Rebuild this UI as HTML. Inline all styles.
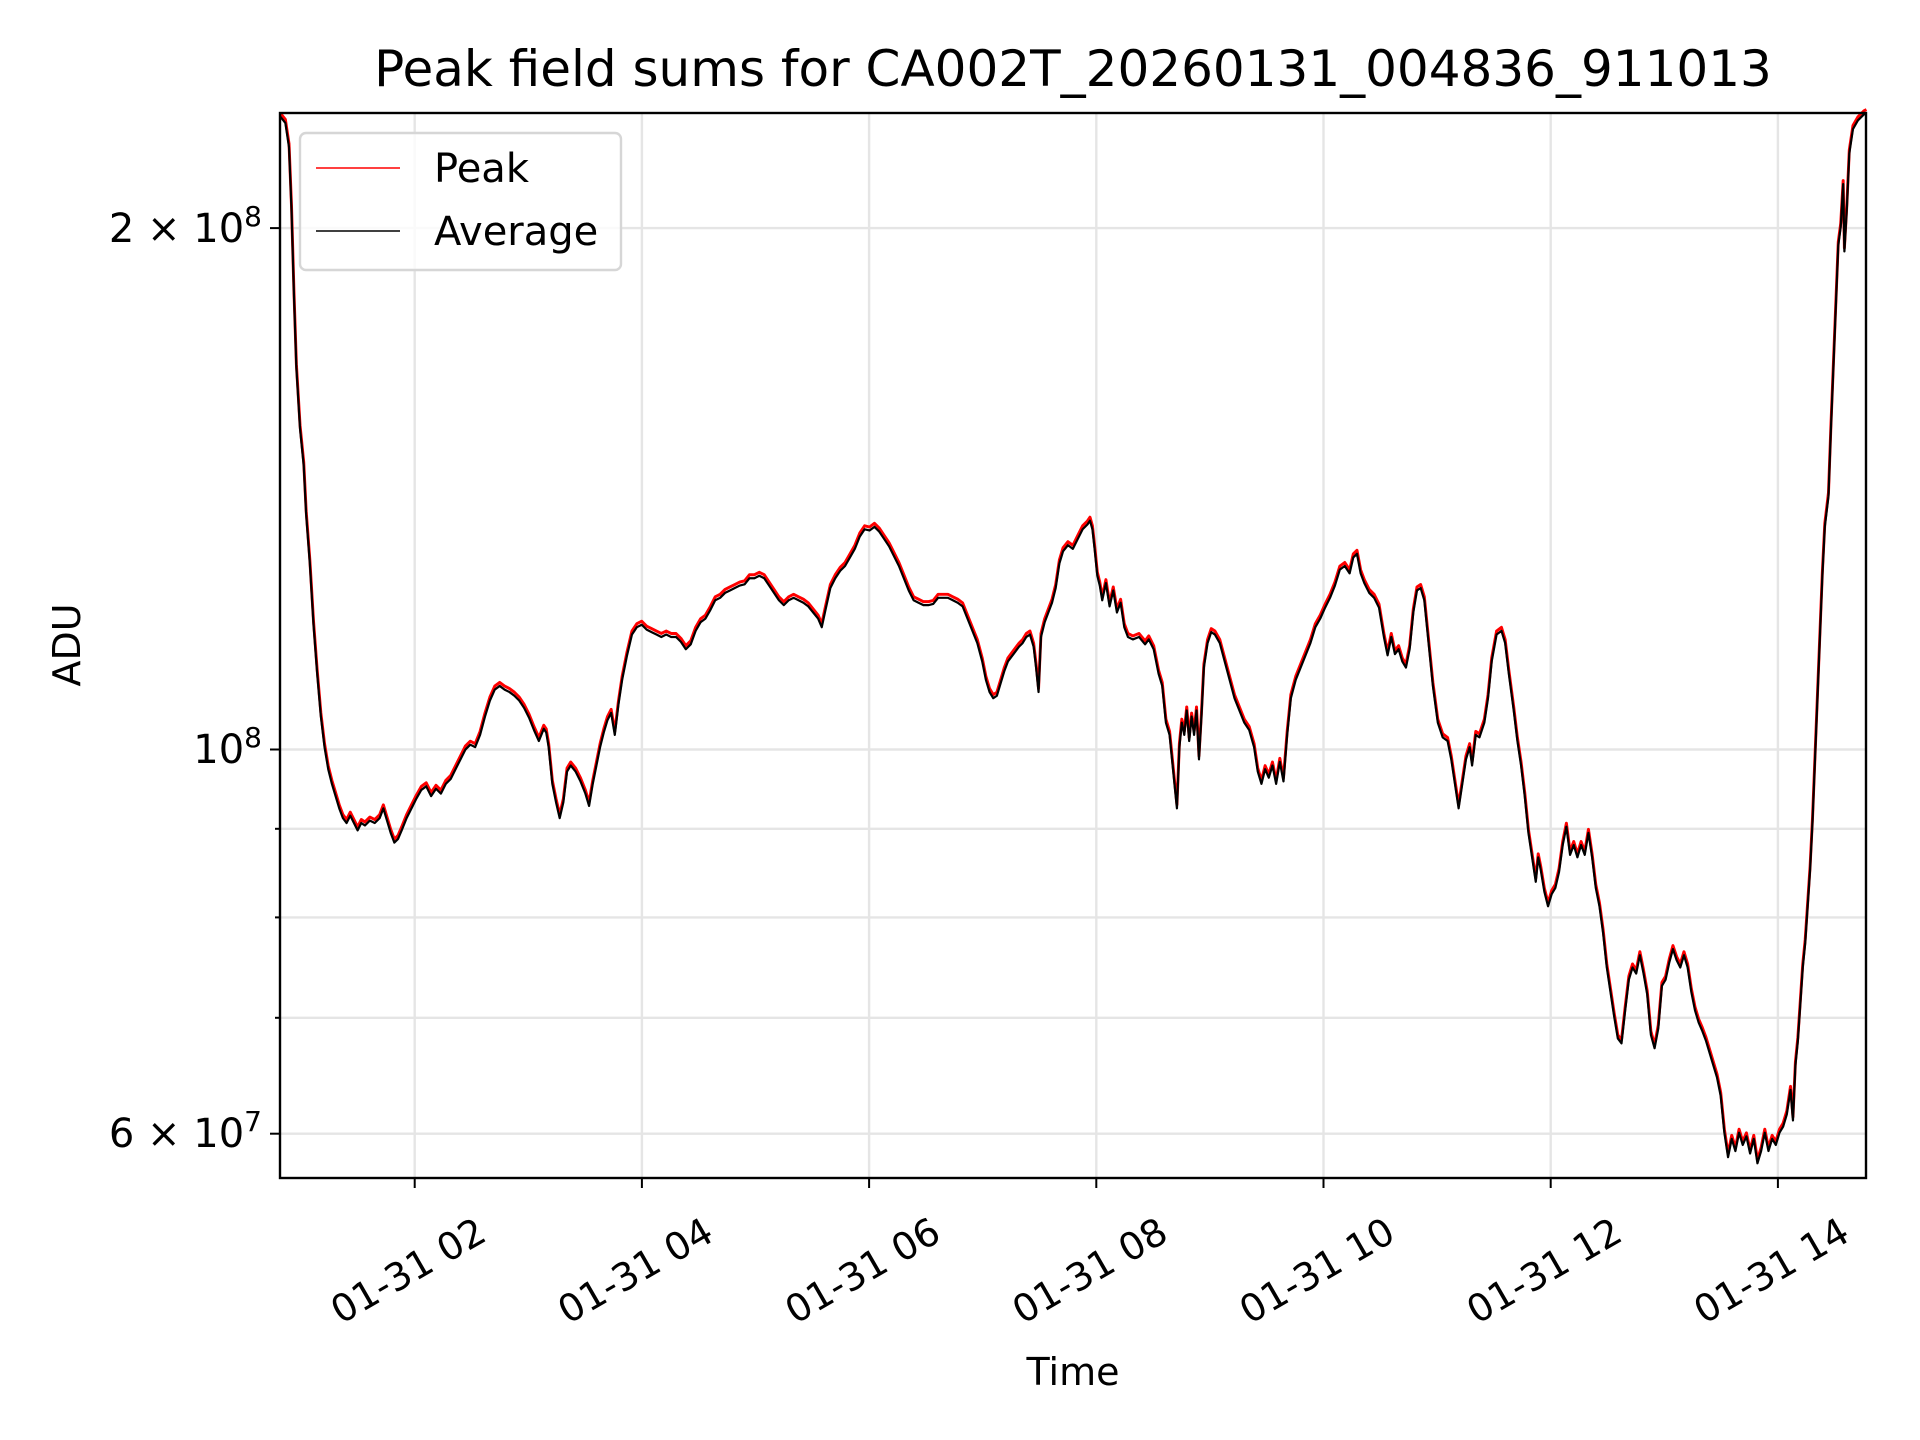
<!DOCTYPE html>
<html><head><meta charset="utf-8"><style>
html,body{margin:0;padding:0;background:#fff;}
svg{display:block;font-family:"DejaVu Sans","Liberation Sans",sans-serif;}
</style></head><body>
<svg width="1920" height="1440" viewBox="0 0 1920 1440" xmlns="http://www.w3.org/2000/svg">
<defs>
<polyline id="avg" points="229,95 233,100 236,120 238,170 240,240 242,300 245,350 248,380 250,420 253,460 256,510 259,550 262,585 265,610 268,628 271,640 274,650 277,660 280,668 283,672 286,666 289,672 292,678 295,672 298,674 302,670 306,672 310,668 313,660 316,670 319,680 322,688 325,685 328,678 332,668 336,660 340,652 344,645 348,642 352,650 356,644 360,648 364,640 368,636 372,628 376,620 380,612 384,608 388,610 392,600 396,585 400,572 404,563 408,560 412,563 416,565 420,568 424,572 428,578 432,586 436,596 440,605 444,595 446,598 448,610 451,640 454,655 457,668 460,655 463,630 466,625 470,630 474,638 478,648 481,658 484,640 487,625 490,610 493,598 496,588 499,582 502,600 505,575 508,555 512,535 516,518 520,512 524,510 528,514 532,516 536,518 540,520 544,518 548,520 552,520 556,524 560,530 564,526 568,515 572,508 576,505 580,498 584,490 588,488 592,484 596,482 600,480 604,478 608,477 612,472 616,472 620,470 624,472 628,478 632,484 636,490 640,494 644,490 648,488 652,490 656,492 660,495 664,500 668,505 671,512 674,498 678,480 682,472 686,466 690,462 694,455 698,448 702,438 706,432 710,433 714,430 718,434 722,440 726,446 730,454 734,462 738,472 742,482 746,490 750,492 754,494 758,494 762,493 766,488 770,488 774,488 778,490 782,492 786,495 790,505 794,515 798,525 802,540 805,555 808,565 811,570 814,568 817,558 820,548 823,540 826,536 829,532 832,528 835,525 838,520 841,518 844,528 846,545 848,565 850,520 853,508 856,500 859,492 862,480 865,460 868,450 872,445 876,448 880,440 884,432 888,428 890,425 892,432 894,450 896,470 898,478 900,490 903,476 906,495 909,482 912,500 915,492 918,512 921,520 925,522 930,520 935,526 938,522 942,530 946,550 949,560 952,590 955,600 958,630 961,660 963,610 965,590 967,600 969,580 971,605 973,585 975,600 977,580 979,620 981,585 983,545 986,525 989,516 992,518 996,525 1000,540 1004,555 1008,570 1012,580 1016,590 1020,596 1024,610 1027,630 1030,640 1033,628 1036,635 1039,625 1042,640 1045,622 1048,638 1051,600 1054,570 1058,555 1062,545 1066,535 1070,525 1074,512 1078,505 1082,496 1086,488 1090,478 1094,465 1098,462 1102,468 1105,455 1108,452 1111,468 1114,476 1118,484 1122,488 1126,496 1130,520 1133,535 1136,520 1139,534 1142,530 1145,540 1148,545 1151,530 1154,500 1157,482 1160,480 1163,490 1166,520 1170,560 1174,590 1178,602 1182,605 1185,620 1188,640 1191,660 1194,640 1197,620 1200,610 1202,625 1205,600 1208,602 1212,590 1215,570 1218,540 1222,518 1226,515 1229,525 1232,550 1236,580 1239,605 1242,625 1245,650 1248,680 1251,700 1254,720 1256,700 1258,710 1261,728 1264,740 1267,730 1270,725 1273,712 1276,690 1279,675 1282,698 1285,690 1288,700 1291,690 1294,698 1297,680 1300,700 1303,725 1306,740 1309,762 1312,790 1315,810 1318,830 1321,848 1324,852 1327,825 1330,800 1333,790 1336,795 1339,780 1342,795 1345,812 1348,845 1351,856 1354,840 1357,805 1360,800 1363,786 1366,775 1369,784 1372,790 1375,780 1378,790 1381,810 1384,825 1387,835 1390,842 1393,850 1396,860 1399,870 1402,880 1405,895 1408,925 1411,945 1414,930 1417,940 1420,925 1423,935 1426,928 1429,942 1432,930 1435,950 1438,940 1441,925 1444,940 1447,930 1450,935 1453,925 1456,920 1459,910 1462,890 1464,915 1466,870 1468,850 1470,820 1472,790 1474,770 1476,740 1478,710 1480,670 1482,620 1484,570 1486,520 1488,470 1490,430 1493,405 1495,350 1497,300 1499,250 1501,200 1503,185 1505,150 1506,205 1508,170 1510,125 1513,105 1517,98 1522,93 1524,92"/>
</defs>
<rect width="1920" height="1440" fill="#fff"/>
<g stroke="#e5e5e5" stroke-width="2.4">
<line x1="414.7" y1="113" x2="414.7" y2="1178"/>
<line x1="641.9" y1="113" x2="641.9" y2="1178"/>
<line x1="869.1" y1="113" x2="869.1" y2="1178"/>
<line x1="1096.3" y1="113" x2="1096.3" y2="1178"/>
<line x1="1323.5" y1="113" x2="1323.5" y2="1178"/>
<line x1="1550.7" y1="113" x2="1550.7" y2="1178"/>
<line x1="1777.9" y1="113" x2="1777.9" y2="1178"/>
<line x1="280" y1="228.1" x2="1866" y2="228.1"/>
<line x1="280" y1="749.5" x2="1866" y2="749.5"/>
<line x1="280" y1="828.8" x2="1866" y2="828.8"/>
<line x1="280" y1="917.4" x2="1866" y2="917.4"/>
<line x1="280" y1="1017.8" x2="1866" y2="1017.8"/>
<line x1="280" y1="1133.7" x2="1866" y2="1133.7"/>
</g>
<g transform="translate(0,-3) scale(1.2247,1.224)"><use href="#avg" fill="none" stroke="#f00" stroke-width="2.4" stroke-linejoin="round" vector-effect="non-scaling-stroke"/></g>
<g transform="translate(0,0.5) scale(1.2247,1.224)"><use href="#avg" fill="none" stroke="#000" stroke-width="1.8" stroke-linejoin="round" vector-effect="non-scaling-stroke"/></g>
<rect x="280" y="113" width="1586" height="1065" fill="none" stroke="#000" stroke-width="2.4"/>
<g stroke="#000" stroke-width="2">
<line x1="414.7" y1="1178" x2="414.7" y2="1188"/>
<line x1="641.9" y1="1178" x2="641.9" y2="1188"/>
<line x1="869.1" y1="1178" x2="869.1" y2="1188"/>
<line x1="1096.3" y1="1178" x2="1096.3" y2="1188"/>
<line x1="1323.5" y1="1178" x2="1323.5" y2="1188"/>
<line x1="1550.7" y1="1178" x2="1550.7" y2="1188"/>
<line x1="1777.9" y1="1178" x2="1777.9" y2="1188"/>
<line x1="270" y1="228.1" x2="280" y2="228.1"/>
<line x1="270" y1="749.5" x2="280" y2="749.5"/>
<line x1="270" y1="1133.7" x2="280" y2="1133.7"/>
<line x1="275" y1="828.8" x2="280" y2="828.8"/>
<line x1="275" y1="917.4" x2="280" y2="917.4"/>
<line x1="275" y1="1017.8" x2="280" y2="1017.8"/>
</g>
<g font-size="38" fill="#000" text-anchor="middle">
<text transform="translate(414.7,1282) rotate(-30)">01-31 02</text>
<text transform="translate(641.9,1282) rotate(-30)">01-31 04</text>
<text transform="translate(869.1,1282) rotate(-30)">01-31 06</text>
<text transform="translate(1096.3,1282) rotate(-30)">01-31 08</text>
<text transform="translate(1323.5,1282) rotate(-30)">01-31 10</text>
<text transform="translate(1550.7,1282) rotate(-30)">01-31 12</text>
<text transform="translate(1777.9,1282) rotate(-30)">01-31 14</text>
</g>
<g font-size="40" fill="#000" text-anchor="end">
<text x="262" y="242">2 × 10<tspan dy="-16" font-size="28">8</tspan></text>
<text x="262" y="763">10<tspan dy="-16" font-size="28">8</tspan></text>
<text x="262" y="1147">6 × 10<tspan dy="-16" font-size="28">7</tspan></text>
</g>
<text x="1073" y="86" font-size="50" text-anchor="middle">Peak field sums for CA002T_20260131_004836_911013</text>
<text x="1073" y="1385" font-size="38" text-anchor="middle">Time</text>
<text font-size="38" text-anchor="middle" transform="translate(80,645) rotate(-90)">ADU</text>
<rect x="300" y="133" width="321" height="137" rx="6" fill="#fff" fill-opacity="0.8" stroke="#d6d6d6" stroke-width="2.4"/>
<line x1="316" y1="168" x2="400" y2="168" stroke="#f00" stroke-width="1.6"/>
<line x1="316" y1="231" x2="400" y2="231" stroke="#000" stroke-width="1.6"/>
<text x="434" y="182" font-size="40">Peak</text>
<text x="434" y="245" font-size="40">Average</text>
</svg>
</body></html>
